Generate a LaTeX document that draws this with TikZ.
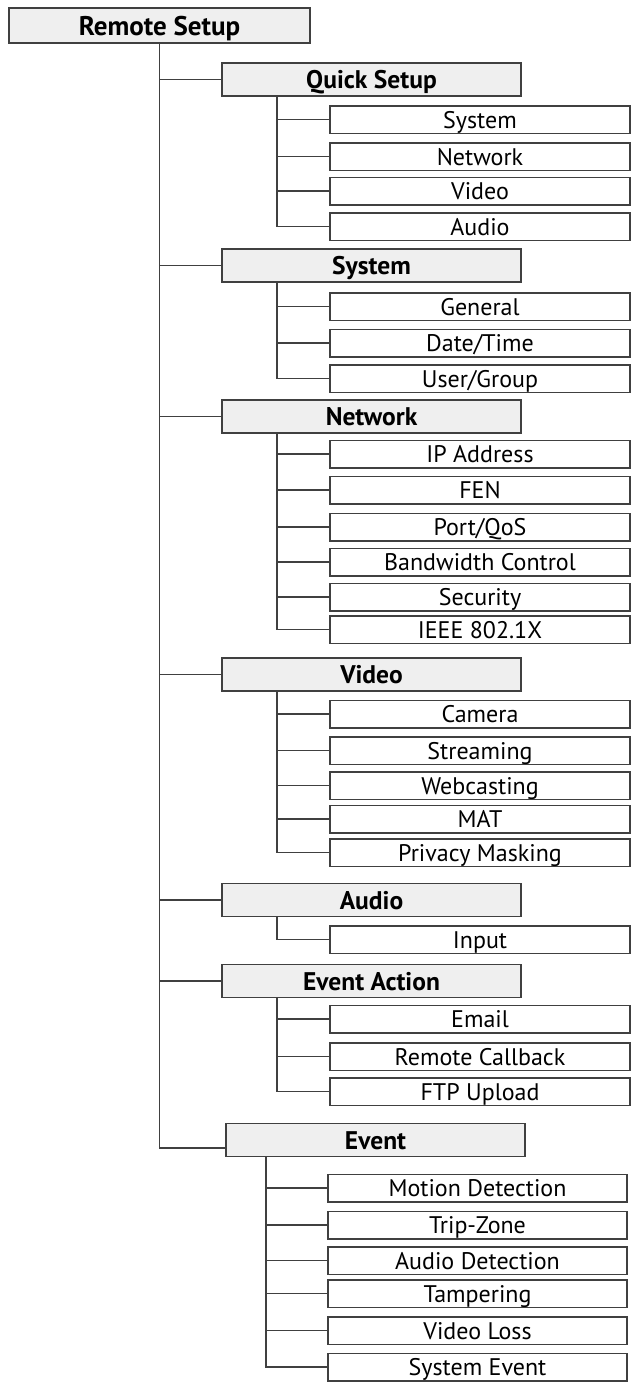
\documentclass[tikz,border=0pt]{standalone}
\usepackage{fontspec}
\setmainfont{PT Sans}
\usetikzlibrary{positioning}
\definecolor{cLine}{HTML}{404040}
\definecolor{cHead}{HTML}{EFEFEF}
\tikzset{
  root/.style={draw=cLine,line width=1.7pt,fill=cHead,inner sep=0pt,minimum width=301pt,minimum height=35pt,text height=19pt,text depth=0pt,font=\fontsize{27}{30}\selectfont\bfseries},
  cat/.style={draw=cLine,line width=1.7pt,fill=cHead,inner sep=0pt,minimum width=299pt,minimum height=33pt,text height=18pt,text depth=0pt,font=\fontsize{25.5}{28}\selectfont\bfseries},
  leaf/.style={draw=cLine,line width=1.5pt,fill=white,inner sep=0pt,minimum width=300pt,minimum height=27.5pt,text height=17pt,text depth=0pt,font=\fontsize{24}{26}\selectfont},
  wire/.style={cLine,line width=1.6pt},
}
\begin{document}
\begin{tikzpicture}[x=1pt,y=-1pt]
  \useasboundingbox (0,0) rectangle (634,1382);
  % top of the tree
  \node[root] (rs) at (159.5,25.5) {Remote Setup};
  % menu groups
  \node[cat] (qs) at (371.5,79.5) {Quick Setup};
  \node[cat] (sys) at (371.5,265.5) {System};
  \node[cat] (net) at (371.5,416.5) {Network};
  \node[cat] (vid) at (371.5,674.5) {Video};
  \node[cat] (aud) at (371.5,900) {Audio};
  \node[cat] (ea) at (371.5,981) {Event Action};
  \node[cat] (evt) at (375.5,1140) {Event};
  % pages of each group
  \foreach \nm/\yy/\txt in {qs1/119.5/System,qs2/156.5/Network,qs3/191/Video,qs4/226.5/Audio,
      sys1/306.5/General,sys2/343/Date\slash Time,sys3/378.5/User\slash Group,
      net1/454/IP Address,net2/490/FEN,net3/527/Port\slash QoS,net4/562/Bandwidth Control,net5/597/Security,net6/629.5/IEEE 802.1X,
      vid1/714/Camera,vid2/750.5/Streaming,vid3/785.5/Webcasting,vid4/819/MAT,vid5/852.5/Privacy Masking,
      aud1/939.5/Input,
      ea1/1019/Email,ea2/1056.5/Remote Callback,ea3/1091.5/FTP Upload}{
    \node[leaf] (\nm) at (480,\yy) {\txt};
  }
  \foreach \nm/\yy/\txt in {evt1/1188/Motion Detection,evt2/1225/Trip-Zone,evt3/1260.5/Audio Detection,
      evt4/1293.5/Tampering,evt5/1330.5/Video Loss,evt6/1367/System Event}{
    \node[leaf,minimum width=299pt] (\nm) at (477.5,\yy) {\txt};
  }
  % main trunk
  \draw[wire] (rs.south) |- ([yshift=-8pt]evt.west);
  \foreach \c in {qs,sys,net,vid,aud,ea}{\draw[wire] (rs.south |- \c.west) -- (\c.west);}
  % group trunks
  \foreach \c/\last in {qs/4,sys/3,net/6,vid/5,aud/1,ea/3}{
    \coordinate (\c T) at ([xshift=56pt]\c.south west);
    \draw[wire] (\c T) |- (\c\last.west);
    \foreach \i in {1,...,\last}{\draw[wire] (\c T |- \c\i.west) -- (\c\i.west);}
  }
  \coordinate (evtT) at ([xshift=41pt]evt.south west);
  \draw[wire] (evtT) |- (evt6.west);
  \foreach \i in {1,...,5}{\draw[wire] (evtT |- evt\i.west) -- (evt\i.west);}
\end{tikzpicture}
\end{document}
